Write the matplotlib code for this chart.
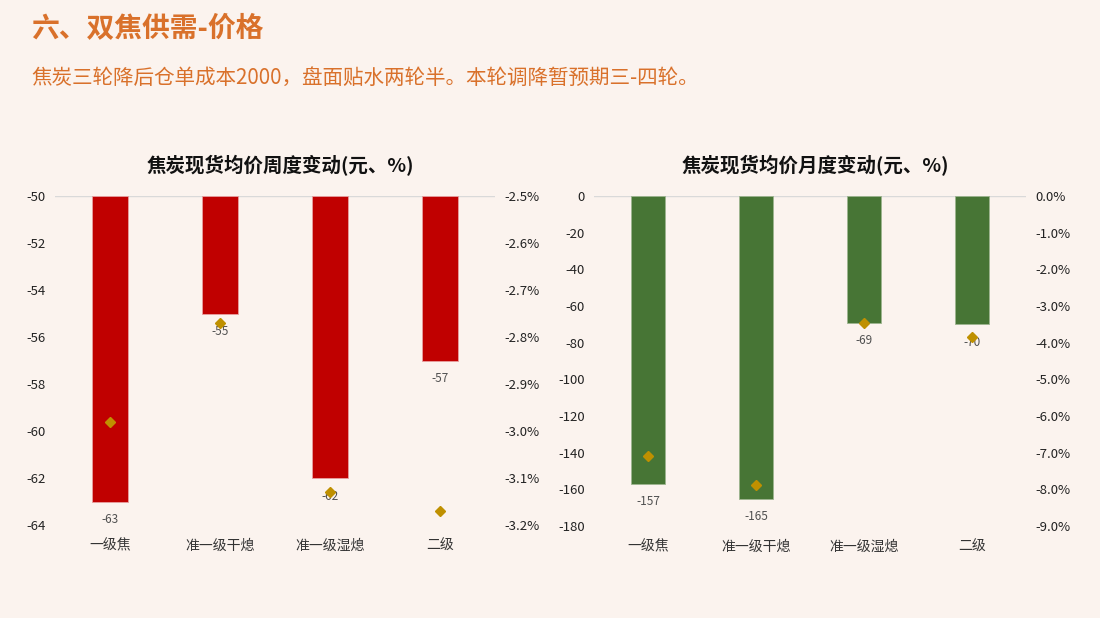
import numpy as np
import matplotlib.pyplot as plt
from matplotlib.ticker import FuncFormatter

plt.rcParams['font.family'] = ['Noto Sans CJK SC', 'DejaVu Sans']
plt.rcParams['axes.unicode_minus'] = False

# data
grades = ['一级焦', '准一级干熄', '准一级湿熄', '二级']
week_change = [-63, -55, -62, -57]          # 元
week_pct = [-2.98, -2.77, -3.13, -3.17]     # %
month_change = [-157, -165, -69, -70]       # 元
month_pct = [-7.10, -7.87, -3.46, -3.84]    # %

bg = '#FBF3EE'
orange = '#D9712B'
diamond = '#BF9000'

fig = plt.figure(figsize=(11, 6.18), dpi=100, facecolor=bg)

fig.text(31 / 1100, 1 - 29 / 618, '六、双焦供需-价格', fontsize=20, fontweight='bold',
         color=orange, va='center', ha='left')
fig.text(31 / 1100, 1 - 78 / 618, '焦炭三轮降后仓单成本2000，盘面贴水两轮半。本轮调降暂预期三-四轮。',
         fontsize=14.8, color=orange, va='center', ha='left')


def draw_panel(rect, title, vals, pcts, color, edge, ylim, yticks, plim, pticks, pfmt):
    ax = fig.add_axes(rect)
    ax.set_facecolor(bg)
    x = np.arange(len(grades))
    base = ylim[1]
    heights = [v - base for v in vals]
    ax.bar(x, heights, bottom=base, width=0.32, color=color, edgecolor=edge,
           linewidth=0.6, zorder=2)
    ax.set_ylim(ylim)
    ax.set_xlim(-0.5, len(grades) - 0.5)
    ax.set_yticks(yticks)
    ax.set_xticks(x)
    ax.set_xticklabels(grades, fontsize=10, color='#333333')
    ax.tick_params(axis='y', length=0, labelsize=9.5, colors='#222222', pad=6.5)
    ax.tick_params(axis='x', length=0, pad=10)
    for s in ax.spines.values():
        s.set_visible(False)
    ax.axhline(base, color='#D9D9D9', linewidth=1, zorder=1)
    for xi, v in zip(x, vals):
        ax.annotate(str(v), (xi, v), xytext=(0, -13), textcoords='offset points',
                    ha='center', va='center', fontsize=8.5, color='#505050', zorder=4)
    ax.set_title(title, fontsize=14, fontweight='bold', color='#111111', pad=17, x=0.513)

    ax2 = ax.twinx()
    ax2.plot(x, pcts, linestyle='none', marker='D', markersize=5.5, color=diamond, zorder=5)
    ax2.set_ylim(plim)
    ax2.set_yticks(pticks)
    ax2.yaxis.set_major_formatter(FuncFormatter(pfmt))
    ax2.tick_params(axis='y', length=0, labelsize=9.5, colors='#222222', pad=7)
    for s in ax2.spines.values():
        s.set_visible(False)
    return ax, ax2


draw_panel([55 / 1100, 1 - 525 / 618, 440 / 1100, 329 / 618],
           '焦炭现货均价周度变动(元、%)', week_change, week_pct, '#C00000', '#E8A0A0',
           (-64, -50), np.arange(-64, -49, 2), (-3.2, -2.5), np.arange(-3.2, -2.49, 0.1),
           lambda v, p: '%.1f%%' % v)

draw_panel([594 / 1100, 1 - 526 / 618, 432 / 1100, 330 / 618],
           '焦炭现货均价月度变动(元、%)', month_change, month_pct, '#477535', '#9DB58F',
           (-180, 0), np.arange(-180, 1, 20), (-9, 0), np.arange(-9, 0.01, 1),
           lambda v, p: '%.1f%%' % (0.0 if abs(v) < 1e-9 else v))

fig.savefig('out.png', dpi=100, facecolor=bg)
